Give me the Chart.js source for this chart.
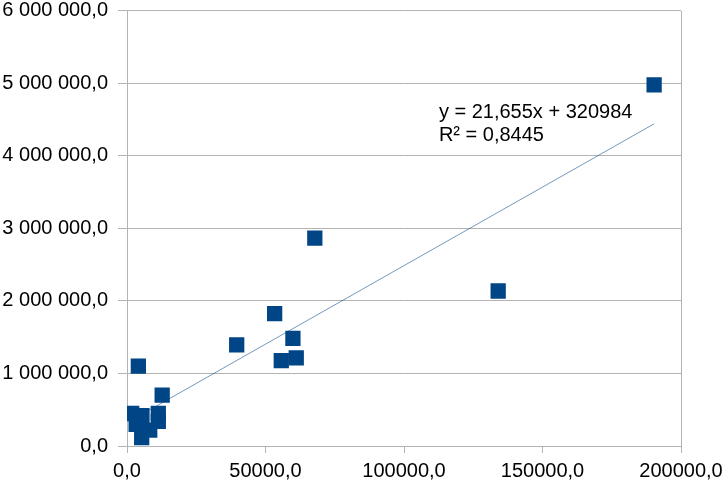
<!DOCTYPE html>
<html>
<head>
<meta charset="utf-8">
<title>Scatter with trend line</title>
<script src="https://cdn.jsdelivr.net/npm/chart.js@4.4.1/dist/chart.umd.min.js"></script>
<style>
  body { margin: 0; background: #ffffff; }
  #wrap { width: 723px; height: 481px; }
</style>
</head>
<body>
<div id="wrap"><canvas id="chart_out" width="723" height="481"></canvas></div>
<script>
// data
var xValues = [190300, 67800, 134000, 53300, 39600, 59900, 55700, 61100, 4100, 12700,
  1700, 5400, 3300, 8200, 5300, 11300, 11300];
var yValues = [4980000, 2867000, 2137000, 1826000, 1393000, 1484000, 1178000, 1215000, 1100000, 700000,
  448000, 420000, 300000, 220000, 115000, 450000, 340000];
var xTicks = [0, 50000, 100000, 150000, 200000];
var yTicks = [0, 1000000, 2000000, 3000000, 4000000, 5000000, 6000000];

// trend line as printed on the chart
var slope = 21.655;
var intercept = 320984;
var eqText = 'y = 21,655x + 320984';
var r2Text = 'R\u00b2 = 0,8445';

var gridGray = '#b3b3b3';
var blue = '#004586';

var points = [];
for (var i = 0; i < xValues.length; i++) {
  points.push({ x: xValues[i], y: yValues[i] });
}

// trend line runs over the x range of the data
var xMin = Math.min.apply(null, xValues);
var xMax = Math.max.apply(null, xValues);
var trend = [
  { x: xMin, y: intercept + slope * xMin },
  { x: xMax, y: intercept + slope * xMax }
];

function fmtY(v) { // 6000000 -> "6 000 000,0"
  var s = v.toFixed(1).split('.');
  return s[0].replace(/\B(?=(\d{3})+(?!\d))/g, ' ') + ',' + s[1];
}
function fmtX(v) { // 50000 -> "50000,0"
  return v.toFixed(1).replace('.', ',');
}

// writes the equation and R² next to the line
var eqLabel = {
  id: 'eqLabel',
  afterDatasetsDraw: function(chart) {
    var ctx = chart.ctx;
    var xs = chart.scales.x;
    var ys = chart.scales.y;
    var left = xs.getPixelForValue(112600);
    var top = ys.getPixelForValue(4600000);
    ctx.save();
    ctx.font = '20px "Liberation Sans", Arial, sans-serif';
    ctx.fillStyle = '#000000';
    ctx.textAlign = 'left';
    ctx.textBaseline = 'middle';
    ctx.fillText(eqText, left, top);
    ctx.fillText(r2Text, left, top + 23);
    ctx.restore();
  }
};

var ctx = document.getElementById('chart_out').getContext('2d');
var cData = new Chart(ctx, {
  type: 'scatter',
  data: {
    datasets: [
      {
        label: 'data',
        data: points,
        pointStyle: 'rect',
        pointRadius: 10.8,
        pointHoverRadius: 10.8,
        backgroundColor: blue,
        borderColor: blue,
        borderWidth: 0
      },
      {
        label: 'trend',
        type: 'line',
        data: trend,
        borderColor: 'rgba(0, 69, 134, 0.55)',
        borderWidth: 1,
        pointRadius: 0,
        fill: false
      }
    ]
  },
  options: {
    responsive: false,
    animation: false,
    layout: { padding: 0 },
    plugins: {
      legend: { display: false },
      tooltip: { enabled: false }
    },
    scales: {
      x: {
        type: 'linear',
        min: 0,
        max: 200000,
        afterBuildTicks: function(axis) {
          axis.ticks = xTicks.map(function(v) { return { value: v }; });
        },
        afterFit: function(axis) {
          // last label hangs over the right edge like in the original
          axis.paddingRight = 42;
          axis.height = 35;
        },
        grid: {
          color: function(c) {
            return (c.tick && (c.tick.value === 0 || c.tick.value === 200000)) ? gridGray : 'transparent';
          },
          tickColor: gridGray,
          tickLength: 7,
          lineWidth: 1
        },
        border: { display: true, color: gridGray },
        ticks: {
          color: '#000000',
          padding: 8,
          maxRotation: 0,
          font: { family: '"Liberation Sans", Arial, sans-serif', size: 20, lineHeight: 1 },
          callback: function(v) { return fmtX(v); }
        }
      },
      y: {
        type: 'linear',
        min: 0,
        max: 6000000,
        afterBuildTicks: function(axis) {
          axis.ticks = yTicks.map(function(v) { return { value: v }; });
        },
        afterFit: function(axis) {
          // top label is cut by the edge in the original
          axis.paddingTop = 8;
          axis.paddingBottom = 0;
          axis.width = 127;
        },
        grid: {
          color: gridGray,
          tickColor: gridGray,
          tickLength: 9,
          lineWidth: 1
        },
        border: { display: true, color: gridGray },
        ticks: {
          color: '#000000',
          padding: 10,
          font: { family: '"Liberation Sans", Arial, sans-serif', size: 20, lineHeight: 1 },
          callback: function(v) { return fmtY(v); }
        }
      }
    }
  },
  plugins: [eqLabel]
});
</script>
</body>
</html>
